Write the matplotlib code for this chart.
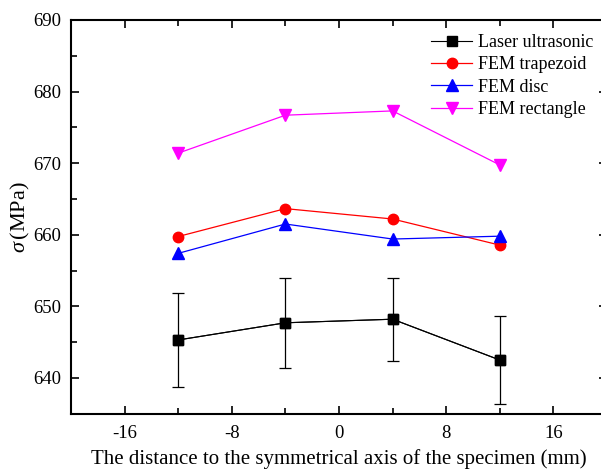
import matplotlib
matplotlib.use("Agg")
import matplotlib.pyplot as plt
from matplotlib.ticker import MultipleLocator

plt.rcParams['font.family'] = ['Liberation Serif', 'DejaVu Serif']
plt.rcParams['mathtext.fontset'] = 'custom'
plt.rcParams['mathtext.it'] = 'Liberation Serif:italic'
plt.rcParams['mathtext.rm'] = 'Liberation Serif'
plt.rcParams['axes.unicode_minus'] = False

x = [-12, -4, 4, 12]
laser = [645.3, 647.7, 648.2, 642.5]
laser_err = [6.6, 6.3, 5.8, 6.1]
fem_trap = [659.75, 663.65, 662.2, 658.55]
fem_disc = [657.4, 661.5, 659.4, 659.8]
fem_rect = [671.4, 676.7, 677.3, 669.75]
labels = ["Laser ultrasonic", "FEM trapezoid", "FEM disc", "FEM rectangle"]

fig = plt.figure(figsize=(6.01, 4.71), dpi=100)
ax = fig.add_axes([71/601, 1-413.7/471, (607-71)/601, (413.7-20)/471])

ax.errorbar(x, laser, yerr=laser_err, color='black', marker='s', markersize=6.5,
            lw=0.8, elinewidth=0.9, capsize=4.5, capthick=0.9)
h0, = ax.plot(x, laser, color='black', marker='s', markersize=6.5, lw=0.8, label=labels[0])
h1, = ax.plot(x, fem_trap, color='red', marker='o', markersize=7.5, lw=0.9, label=labels[1])
h2, = ax.plot(x, fem_disc, color='blue', marker='^', markersize=8, lw=0.9, label=labels[2])
h3, = ax.plot(x, fem_rect, color='magenta', marker='v', markersize=8, lw=0.9, label=labels[3])

ax.set_xlim(-20, 20)
ax.set_ylim(635, 690)
ax.xaxis.set_major_locator(MultipleLocator(8))
ax.xaxis.set_minor_locator(MultipleLocator(4))
ax.yaxis.set_major_locator(MultipleLocator(10))
ax.yaxis.set_minor_locator(MultipleLocator(5))
ax.tick_params(which='both', direction='in', top=True, right=True, labelsize=13.5, width=1.2)
ax.tick_params(which='major', length=6)
ax.tick_params(which='minor', length=4)
ax.tick_params(axis='x', pad=8)
ax.tick_params(axis='y', pad=7)
for s in ax.spines.values():
    s.set_linewidth(1.5)

ax.set_xticks([-16, -8, 0, 8, 16])
ax.set_xlabel("The distance to the symmetrical axis of the specimen (mm)", fontsize=15, labelpad=5.5)
ax.set_ylabel(r"$\sigma\,$(MPa)", fontsize=16, labelpad=1)

leg = ax.legend(handles=[h0, h1, h2, h3], loc='upper left', bbox_to_anchor=(0.642, 1.006),
                frameon=False, fontsize=13, handlelength=2.25, handletextpad=0.35, labelspacing=0.3)

fig.savefig("out.png", dpi=100)
